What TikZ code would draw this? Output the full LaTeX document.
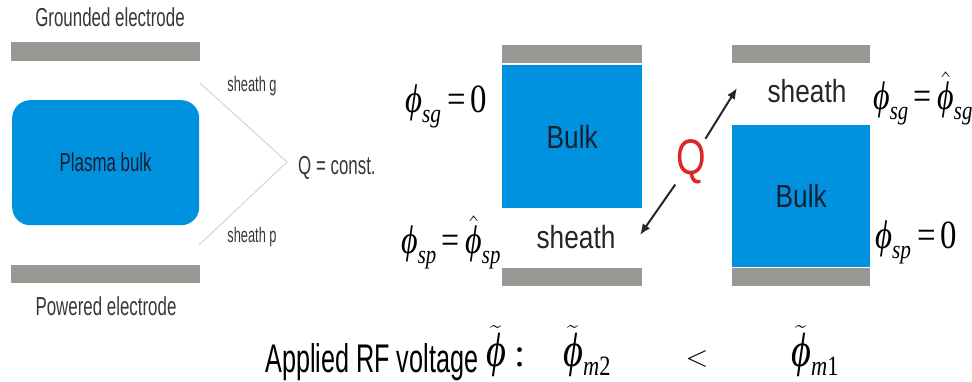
\RequirePackage{fix-cm}
\documentclass[tikz,border=0pt]{standalone}
\usepackage{amsmath}
\usepackage[no-math]{fontspec}
\newfontfamily\arial{Liberation Sans}
\newfontfamily\tnr{Liberation Serif}
\usetikzlibrary{arrows.meta}
\definecolor{plasma}{RGB}{0,146,222}
\definecolor{elec}{RGB}{152,152,148}
\definecolor{txt}{RGB}{55,55,55}
\definecolor{bulktxt}{RGB}{20,32,50}
\definecolor{qred}{RGB}{220,38,40}
\definecolor{sline}{RGB}{205,205,205}
\newcommand\hsq[2]{\scalebox{#1}[1]{#2}}
\newcommand\fs[1]{\fontsize{#1}{#1}\selectfont}
\newcommand\mv[1]{\text{\tnr\itshape #1}}
\newcommand\mr[1]{\text{\tnr #1}}
\newcommand\sbs[1]{\text{\tnr\itshape\fs{26}#1}}
\newcommand\sbb[2]{\text{\raisebox{2pt}{\tnr\fs{28}\textit{#1}#2}}}
\newcommand\ph{\mv{ϕ}}
\begin{document}
\begin{tikzpicture}[x=1pt,y=-1pt,
  electrode/.style={fill=elec, draw=none, inner sep=0, anchor=north west},
  plasmablock/.style={fill=plasma, draw=none, inner sep=0, anchor=north west, text=bulktxt, font=\arial\fs{32}},
  lbl/.style={inner sep=0, anchor=base, text=txt, font=\arial\fs{26}},
  small/.style={inner sep=0, anchor=base, text=txt, font=\arial\fs{21}},
  sheathtxt/.style={inner sep=0, anchor=base, text=black!85, font=\arial\fs{32}},
  eq/.style={inner sep=0, anchor=base, font=\fs{40}},
  conn/.style={draw=black!85, line width=2pt, -{Latex[length=11pt,width=9pt]}},
]
\useasboundingbox (0,0) rectangle (972,382);
% ---- left panel
\node[lbl] (gndlbl) at (110,27) {\hsq{0.65}{Grounded electrode}};
\node[electrode, minimum width=189pt, minimum height=19pt] (gndel) at (11,42) {};
\node[plasmablock, rounded corners=18pt, minimum width=187pt, minimum height=125pt, font=\arial\fs{26}] (pbulk) at (12,100) {\hsq{0.65}{Plasma bulk}};
\coordinate (sgtop) at (200,83);
\coordinate (apex) at (287,162);
\coordinate (spbot) at (199,245);
\draw[sline, line width=0.8pt] (sgtop) -- (apex) -- (spbot);
\node[small] (sg) at (252,92) {\hsq{0.61}{sheath g}};
\node[small] (sp) at (252,243) {\hsq{0.61}{sheath p}};
\node[lbl, anchor=base west] (qc) at (298,175) {\hsq{0.65}{Q = const.}};
\node[electrode, minimum width=189pt, minimum height=18pt] (powel) at (11,265) {};
\node[lbl] (powlbl) at (106,315) {\hsq{0.65}{Powered electrode}};
% ---- middle panel
\node[electrode, minimum width=140pt, minimum height=18pt] (mtop) at (502,45) {};
\node[plasmablock, minimum width=140pt, minimum height=143pt] (mbulk) at (502,65) {\hsq{0.82}{Bulk}};
\node[sheathtxt] (msheath) at (576,249) {\hsq{0.82}{sheath}};
\node[electrode, minimum width=140pt, minimum height=18pt] (mbot) at (502,268) {};
\node[eq, anchor=base west] (eqmg) at (405,113) {\hsq{0.82}{$\ph_{\sbs{sg}}\,\mr{=}\,\mr{0}$}};
\node[eq, anchor=base west] (eqmp) at (401,254) {\hsq{0.8}{$\ph_{\sbs{sp}}\,\mr{=}\,\hat{\ph}_{\sbs{sp}}$}};
% ---- right panel
\node[electrode, minimum width=138pt, minimum height=18pt] (rtop) at (732,45) {};
\node[sheathtxt] (rsheath) at (807,103) {\hsq{0.82}{sheath}};
\node[plasmablock, minimum width=138pt, minimum height=142pt] (rbulk) at (732,125) {\hsq{0.82}{Bulk}};
\node[electrode, minimum width=138pt, minimum height=18pt] (rbot) at (732,268) {};
\node[eq, anchor=base west] (eqrg) at (873,110) {\hsq{0.8}{$\ph_{\sbs{sg}}\,\mr{=}\,\hat{\ph}_{\sbs{sg}}$}};
\node[eq, anchor=base west] (eqrp) at (875,249) {\hsq{0.82}{$\ph_{\sbs{sp}}\,\mr{=}\,\mr{0}$}};
% ---- charge transfer
\node[inner sep=0, outer sep=1pt, text=qred, font=\arial\fs{50}] (Q) at (691,162) {\hsq{0.76}{Q}};
\coordinate (tipg) at (737,88);
\coordinate (tipp) at (640,235);
\draw[conn] (Q) -- (tipg);
\draw[conn] (Q) -- (tipp);
% ---- bottom line
\node[inner sep=0, anchor=base west, text=black, font=\arial\fs{40}] (rf) at (265,372) {\hsq{0.63}{Applied RF voltage}};
\node[eq, font=\fs{48}] (phit) at (496,366) {\hsq{0.8}{$\widetilde{\ph}$}};
\node[eq, font=\tnr\fs{40}] (colon) at (520,366) {:};
\node[eq, anchor=base west, font=\fs{48}] (phim2) at (563,366) {\hsq{0.8}{$\widetilde{\ph}_{\sbb{m}{2}}$}};
\node[eq, font=\fs{30}] (lt) at (697,366) {$<$};
\node[eq, anchor=base west, font=\fs{48}] (phim1) at (791,366) {\hsq{0.8}{$\widetilde{\ph}_{\sbb{m}{1}}$}};
\end{tikzpicture}
\end{document}
